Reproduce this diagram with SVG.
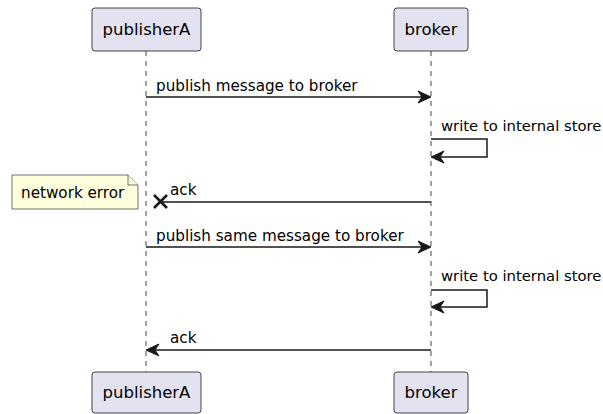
<svg xmlns="http://www.w3.org/2000/svg" width="603" height="414" viewBox="0 0 603 414">
<style>
.part{fill:#E2E2F0;stroke:#181818;stroke-width:0.8}
.pt{font-family:"DejaVu Sans",sans-serif;font-size:16.5px;fill:#000;text-anchor:middle}
.mt{font-family:"DejaVu Sans",sans-serif;font-size:15.2px;fill:#000}
.st{font-family:"DejaVu Sans",sans-serif;font-size:14.8px;fill:#000}
.life{stroke:#181818;stroke-width:0.8;stroke-dasharray:5,5;fill:none}
.msg{stroke:#181818;stroke-width:1.5;fill:none}
.cross{stroke:#181818;stroke-width:2.6;fill:none}
.head{fill:#181818;stroke:#181818;stroke-width:1}
.note{fill:#FEFFDD;stroke:#181818;stroke-width:0.6}
</style>
<g id="lifelines">
<line class="life" x1="146" y1="51" x2="146" y2="372"/>
<line class="life" x1="431" y1="51" x2="431" y2="372"/>
</g>
<g id="publisherA">
<rect class="part" x="92" y="8" width="109" height="43" rx="3"/>
<text class="pt" x="146.5" y="35">publisherA</text>
<rect class="part" x="92" y="372" width="109" height="41" rx="3"/>
<text class="pt" x="146.5" y="398">publisherA</text>
</g>
<g id="broker">
<rect class="part" x="394" y="8" width="74" height="43" rx="3"/>
<text class="pt" x="431" y="35">broker</text>
<rect class="part" x="394" y="372" width="74" height="41" rx="3"/>
<text class="pt" x="431" y="398">broker</text>
</g>
<g id="note">
<path class="note" d="M12,175 H128 L138,185 V209 H12 Z"/>
<path class="note" d="M128,175 V185 H138"/>
<text class="mt" x="21" y="198">network error</text>
</g>
<g id="connectors">
<line class="msg" x1="146" y1="97" x2="428" y2="97"/>
<polygon class="head" points="431,97 418,91 422,97 418,103"/>
<text class="mt" x="156" y="91">publish message to broker</text>

<polyline class="msg" points="431,139 487,139 487,157 434,157"/>
<polygon class="head" points="431,157 444,151 440,157 444,163"/>
<text class="st" x="441" y="131">write to internal store</text>

<line class="msg" x1="431" y1="202" x2="160" y2="202"/>
<path class="cross" d="M154,195 L167,208 M167,195 L154,208"/>
<text class="mt" x="170" y="195">ack</text>

<line class="msg" x1="146" y1="247" x2="428" y2="247"/>
<polygon class="head" points="431,247 418,241 422,247 418,253"/>
<text class="mt" x="156" y="241">publish same message to broker</text>

<polyline class="msg" points="431,290 487,290 487,307 434,307"/>
<polygon class="head" points="431,307 444,301 440,307 444,313"/>
<text class="st" x="441" y="281">write to internal store</text>

<line class="msg" x1="431" y1="350" x2="149" y2="350"/>
<polygon class="head" points="146,350 159,344 155,350 159,356"/>
<text class="mt" x="170" y="343">ack</text>
</g>
</svg>
